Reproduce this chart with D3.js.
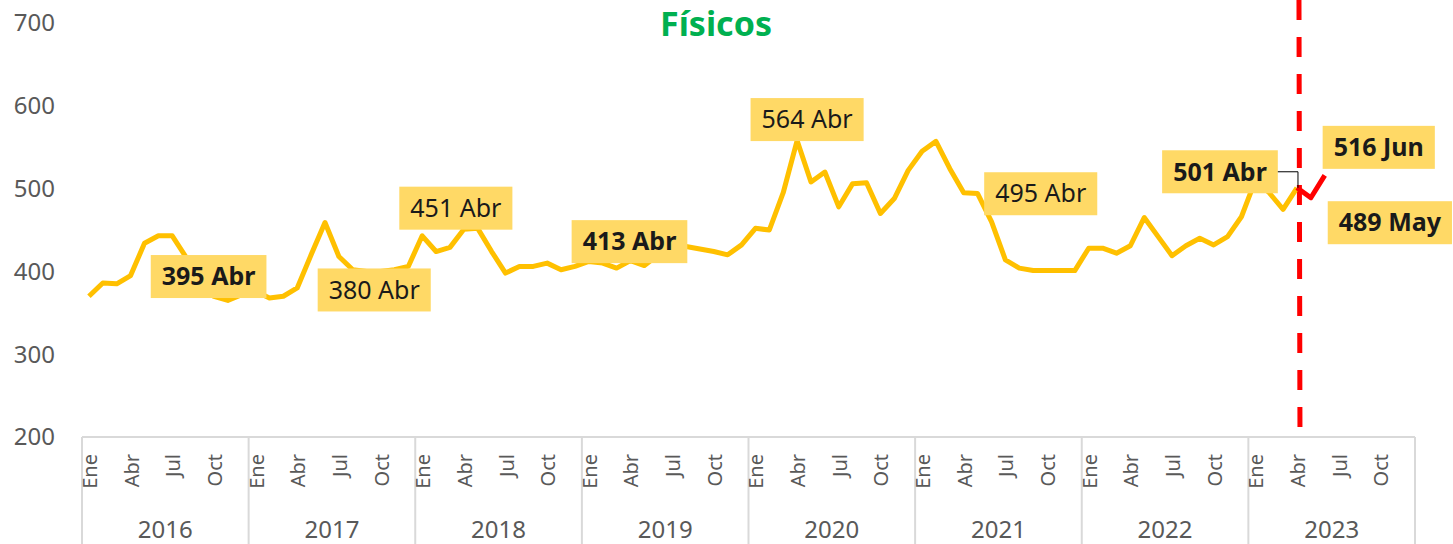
<!DOCTYPE html>
<html lang="es">
<head>
<meta charset="utf-8">
<title>Físicos</title>
<script src="https://cdn.jsdelivr.net/npm/d3@7"></script>
<style>
  body { margin: 0; background: #fff; }
  svg text { font-family: "Noto Sans", sans-serif; }
</style>
</head>
<body>
<svg width="1453" height="544"></svg>
<script>
// datos (ene 2016 - jun 2023)
const anios = [2016, 2017, 2018, 2019, 2020, 2021, 2022, 2023];
const meses = ["Ene", "Feb", "Mar", "Abr", "May", "Jun", "Jul", "Ago", "Sep", "Oct", "Nov", "Dic"];
const mesesVisibles = ["Ene", "Abr", "Jul", "Oct"];
const ticksY = [200, 300, 400, 500, 600, 700];

const fisicos = [
  370, 386, 385, 395, 434, 443, 443, 417, 380, 370, 365, 372,   // 2016
  376, 368, 370, 380, 420, 459, 418, 402, 400, 400, 402, 406,   // 2017
  443, 424, 429, 451, 452, 424, 398, 406, 406, 410, 402, 406,   // 2018
  412, 410, 404, 413, 407, 420, 430, 430, 427, 424, 420, 432,   // 2019
  452, 450, 495, 558, 508, 520, 478, 506, 507, 470, 488, 522,   // 2020
  545, 557, 524, 495, 494, 460, 414, 404, 401, 401, 401, 401,   // 2021
  428, 428, 422, 431, 465, 442, 419, 431, 440, 432, 442, 466,   // 2022
  510, 495, 475, 501, 489, 516                                  // 2023
];
const corte = 87; // Abr 2023, desde aqui tramo rojo

const etiquetas = ["395 Abr", "380 Abr", "451 Abr", "413 Abr", "564 Abr", "495 Abr", "501 Abr", "516 Jun", "489 May"];
const etiquetasMes = [3, 15, 27, 39, 51, 63, 87, 89, 88];

const svg = d3.select("svg");
const alto = 544;

const x = d3.scaleBand()
  .domain(d3.range(anios.length * 12))
  .range([82, 1415]);
const y = d3.scaleLinear()
  .domain([200, 700])
  .range([437, 23]);
const cx = i => x(i) + x.bandwidth() / 2;

// titulo
svg.append("text")
  .attr("x", 716).attr("y", 36)
  .attr("text-anchor", "middle")
  .attr("font-size", 34).attr("font-weight", "bold")
  .attr("fill", "#00B050")
  .text("Físicos");

// eje y (solo etiquetas)
svg.append("g")
  .selectAll("text")
  .data(ticksY)
  .enter()
  .append("text")
    .attr("x", 55)
    .attr("y", d => y(d))
    .attr("dy", "0.35em")
    .attr("text-anchor", "end")
    .attr("font-size", 24)
    .attr("fill", "#595959")
    .text(d => d);

// eje x
const gx = svg.append("g").attr("stroke", "#D9D9D9").attr("stroke-width", 2);
gx.append("line")
  .attr("x1", x.range()[0]).attr("x2", x.range()[1])
  .attr("y1", y(200)).attr("y2", y(200));
gx.selectAll(".sep")
  .data(d3.range(anios.length + 1))
  .enter()
  .append("line")
    .attr("x1", k => k < anios.length ? x(k * 12) : x.range()[1])
    .attr("x2", k => k < anios.length ? x(k * 12) : x.range()[1])
    .attr("y1", y(200)).attr("y2", alto);

const ticksMes = [];
anios.forEach((a, k) => mesesVisibles.forEach(m => ticksMes.push({ i: k * 12 + meses.indexOf(m), m: m })));

svg.append("g")
  .selectAll("text")
  .data(ticksMes)
  .enter()
  .append("text")
    .attr("transform", d => "translate(" + (cx(d.i) + 1) + ",454) rotate(-90)")
    .attr("dy", "0.35em")
    .attr("text-anchor", "end")
    .attr("font-size", 20)
    .attr("fill", "#595959")
    .text(d => d.m);

svg.append("g")
  .selectAll("text")
  .data(anios)
  .enter()
  .append("text")
    .attr("x", (a, k) => (x(k * 12) + x(k * 12 + 11) + x.bandwidth()) / 2)
    .attr("y", 538)
    .attr("text-anchor", "middle")
    .attr("font-size", 24)
    .attr("fill", "#595959")
    .text(a => a);

// linea vertical punteada
svg.append("line")
  .attr("x1", cx(corte) + 2).attr("x2", cx(corte) + 3)
  .attr("y1", 0).attr("y2", y(200))
  .attr("stroke", "#FF0000")
  .attr("stroke-width", 5)
  .attr("stroke-dasharray", "20,17");

// series
const linea = d3.line()
  .x(d => cx(d[0]))
  .y(d => y(d[1]));
const puntos = fisicos.map((v, i) => [i, v]);

svg.append("path")
  .datum(puntos.slice(0, corte + 1))
  .attr("fill", "none")
  .attr("stroke", "#FFC000")
  .attr("stroke-width", 5)
  .attr("stroke-linejoin", "round")
  .attr("d", linea);

svg.append("path")
  .datum(puntos.slice(corte))
  .attr("fill", "none")
  .attr("stroke", "#FF0000")
  .attr("stroke-width", 5)
  .attr("stroke-linejoin", "round")
  .attr("d", linea);

// etiquetas: desplazamiento de la caja respecto al punto [dx, dy, negrita]
const cajas = [
  [78, 1, true], [77, 2, false], [-8, -21, false], [-1, -19, true], [10, -21, false],
  [77, 1, false], [-77, -16, true], [54, -28, true], [79, 25, true]
];

const gEt = svg.append("g");
etiquetas.forEach((t, k) => {
  const i = etiquetasMes[k];
  const px = cx(i), py = y(fisicos[i]);
  const bx = px + cajas[k][0], by = py + cajas[k][1];
  const g = gEt.append("g");
  const rect = g.append("rect").attr("fill", "#FFD966");
  const txt = g.append("text")
    .attr("x", bx).attr("y", by)
    .attr("dy", "0.35em")
    .attr("text-anchor", "middle")
    .attr("font-size", 25)
    .attr("font-weight", cajas[k][2] ? "bold" : "normal")
    .attr("fill", "#1a1a1a")
    .text(t);
  const w = txt.node().getComputedTextLength() + 22;
  rect.attr("x", bx - w / 2).attr("y", by - 21.5)
    .attr("width", w).attr("height", 43);
  if (i === corte) {
    // linea guia hacia el punto
    g.append("polyline")
      .attr("points", [[bx + w / 2, by], [px + 1, by], [px + 1, py]].join(" "))
      .attr("fill", "none")
      .attr("stroke", "#000")
      .attr("stroke-width", 1);
  }
});
</script>
</body>
</html>
